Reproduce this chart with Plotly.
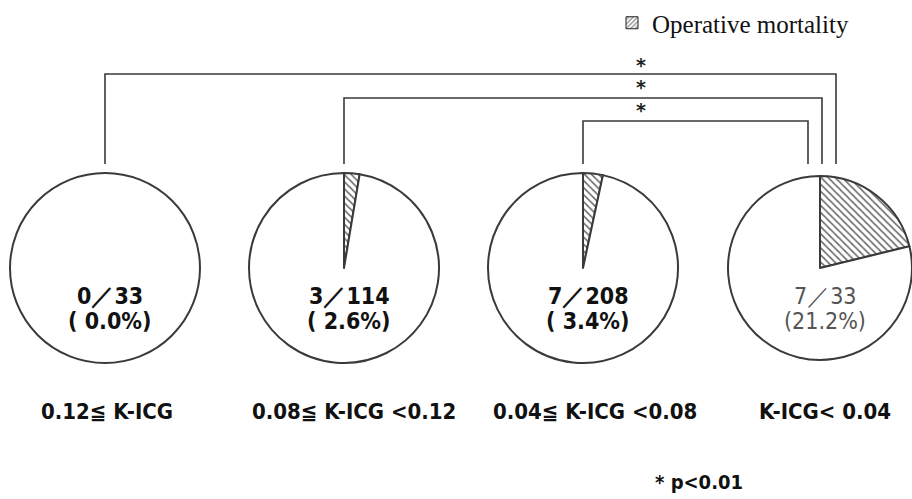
import plotly.graph_objects as go

# ---------------- data ----------------
categories = ["0.12≦ K-ICG", "0.08≦ K-ICG <0.12", "0.04≦ K-ICG <0.08", "K-ICG< 0.04"]
deaths = [0, 3, 7, 7]
totals = [33, 114, 208, 33]
comparisons = [(0, 3), (1, 3), (2, 3)]   # pairs marked significant
sig_marks = ["*", "*", "*"]
legend_label = "Operative mortality"
other_label = "Survived"
footnote = "* p<0.01"

# ---------------- layout constants (pixels) ----------------
W, H = 912, 499
centers_x = [105, 344, 583, 820]
center_y = 268
radii = [95, 95, 95, 92]
text_dx = 5
label_x = [107, 354, 595, 825]
label_y = 411
bracket_y = [74, 98, 121]
bracket_right_dx = [14, 0, -14]
bracket_bottom = 164
star_x = 641
star_y = [63, 85, 108]
text_colors = ["#111", "#111", "#111", "#555"]
text_weights = ["bold", "bold", "bold", "normal"]

NARROW = "DejaVu Sans Condensed, DejaVu Sans, sans-serif"
LINE = "#3a3a3a"


def px(x):
    return x / W


def py(y):
    return 1 - y / H


fig = go.Figure()

for i, (d, n) in enumerate(zip(deaths, totals)):
    vals, labs, pats = [], [], []
    if d > 0:
        vals.append(d); labs.append(legend_label); pats.append("\\")
    vals.append(n - d); labs.append(other_label); pats.append("")
    cx, r = centers_x[i], radii[i]
    fig.add_trace(go.Pie(
        values=vals, labels=labs, sort=False, direction="clockwise", rotation=0,
        textinfo="none", hoverinfo="label+value+percent", showlegend=False,
        marker=dict(colors=["white"] * len(vals),
                    line=dict(color=LINE, width=2),
                    pattern=dict(shape=pats, fgcolor="#666", bgcolor="white",
                                 size=5, solidity=0.3)),
        domain=dict(x=[px(cx - r), min(1.0, px(cx + r))],
                    y=[py(center_y + r), py(center_y - r)]),
    ))

# legend proxy (kept outside the visible y-range)
fig.add_trace(go.Bar(
    x=[0], y=[0], name=legend_label, showlegend=True, hoverinfo="skip",
    marker=dict(color="white", line=dict(color="#222", width=1),
                pattern=dict(shape="/", fgcolor="#222", bgcolor="white", size=4, solidity=0.45)),
))

annotations = []
for i, (d, n) in enumerate(zip(deaths, totals)):
    pct = d / n * 100
    tx = centers_x[i] + text_dx
    f = dict(family=NARROW, size=23, color=text_colors[i], weight=text_weights[i])
    annotations.append(dict(x=px(tx), y=py(296), xref="paper", yref="paper",
                            text=f"{d}／{n}", showarrow=False, xanchor="center", yanchor="middle",
                            font=f))
    annotations.append(dict(x=px(tx), y=py(321), xref="paper", yref="paper",
                            text=f"({pct:4.1f}%)", showarrow=False, xanchor="center", yanchor="middle",
                            font=f))
    annotations.append(dict(x=px(label_x[i]), y=py(label_y), xref="paper", yref="paper",
                            text=categories[i], showarrow=False, xanchor="center", yanchor="middle",
                            font=dict(family=NARROW, size=22, color="#111", weight="bold")))

shapes = []
for k, (a, b) in enumerate(comparisons):
    x1 = centers_x[a]
    x2 = 822 + bracket_right_dx[k]
    y = bracket_y[k]
    path = (f"M {px(x1)},{py(bracket_bottom)} L {px(x1)},{py(y)} "
            f"L {px(x2)},{py(y)} L {px(x2)},{py(bracket_bottom)}")
    shapes.append(dict(type="path", path=path, xref="paper", yref="paper",
                       line=dict(color=LINE, width=1.6)))
    annotations.append(dict(x=px(star_x), y=py(star_y[k] + 2), xref="paper", yref="paper",
                            text=sig_marks[k], showarrow=False, xanchor="center", yanchor="middle",
                            font=dict(family="DejaVu Sans", size=19, color="#222", weight="bold")))

annotations.append(dict(x=px(699), y=py(482), xref="paper", yref="paper", text=footnote,
                        showarrow=False, xanchor="center", yanchor="middle",
                        font=dict(family=NARROW, size=20, color="#111", weight="bold")))

fig.update_layout(
    width=W, height=H, margin=dict(l=0, r=0, t=0, b=0),
    paper_bgcolor="white", plot_bgcolor="white",
    xaxis=dict(visible=False), yaxis=dict(visible=False, range=[1, 2]),
    showlegend=True,
    legend=dict(x=px(612), y=1, xanchor="left", yanchor="top",
                bgcolor="rgba(0,0,0,0)",
                font=dict(family="Liberation Serif, Times New Roman, serif", size=25, color="#111")),
    annotations=annotations, shapes=shapes,
)

fig.write_html("out.html", config={"displayModeBar": False},
               post_script="document.body.style.margin='0';")
